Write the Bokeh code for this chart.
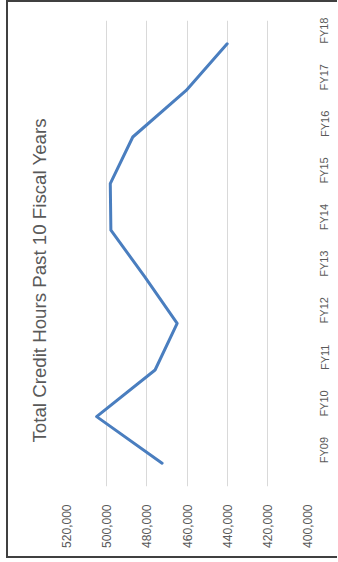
from bokeh.plotting import figure
from bokeh.models import Range1d, FactorRange, NumeralTickFormatter, FixedTicker
from bokeh.embed import file_html
from bokeh.resources import INLINE

# Fiscal years and total credit hours per year
years = ["FY09", "FY10", "FY11", "FY12", "FY13", "FY14", "FY15", "FY16", "FY17", "FY18"]
credit_hours = [472400, 505000, 475900, 464900, 481000, 497900, 498200, 487000, 460400, 440000]
value_ticks = [400000, 420000, 440000, 460000, 480000, 500000, 520000]

TEXT = "#595959"
FONT = "Liberation Sans"
UPWARD = 1.5707963267948966  # labels read from bottom to top

p = figure(
    width=331, height=558,
    x_range=Range1d(520000, 400000),
    y_range=FactorRange(factors=years),
    y_axis_location="right",
    title="Total Credit Hours Past 10 Fiscal Years",
    title_location="left",
    output_backend="svg",
    toolbar_location=None,
    min_border_left=58, min_border_right=31,
    min_border_top=18, min_border_bottom=74,
)

# chart-area frame drawn around the figure element
p.styles = {
    "border-left": "2px solid #404040",
    "border-top": "2px solid #404040",
    "border-bottom": "2px solid #404040",
    "margin-left": "6px",
}

p.title.text_font = FONT
p.title.text_font_size = "18.7px"
p.title.text_font_style = "normal"
p.title.text_color = TEXT
p.title.align = "left"
p.title.offset = 44
p.title.standoff = 34

p.outline_line_color = None
p.background_fill_color = "white"
p.border_fill_color = "white"

# value axis (bottom)
xa = p.xaxis[0]
xa.ticker = FixedTicker(ticks=value_ticks)
xa.formatter = NumeralTickFormatter(format="0,0")
xa.major_label_orientation = UPWARD
xa.major_label_text_font = FONT
xa.major_label_text_font_size = "12px"
xa.major_label_text_color = TEXT
xa.major_label_standoff = 18
xa.axis_line_color = None
xa.major_tick_line_color = None
xa.minor_tick_line_color = None
xa.major_tick_out = 0

# category axis (right)
ya = p.yaxis[0]
ya.major_label_orientation = UPWARD
ya.major_label_text_font = FONT
ya.major_label_text_font_size = "11px"
ya.major_label_text_color = TEXT
ya.major_label_standoff = 17
ya.axis_line_color = None
ya.major_tick_line_color = None
ya.minor_tick_line_color = None
ya.major_tick_out = 0

p.xgrid.grid_line_color = "#D9D9D9"
p.xgrid.grid_line_width = 1
p.ygrid.grid_line_color = None

p.line(x=credit_hours, y=years, line_color="#4A7EBF", line_width=3,
       line_join="round", line_cap="round")

open("out.html", "w").write(file_html(p, INLINE))
